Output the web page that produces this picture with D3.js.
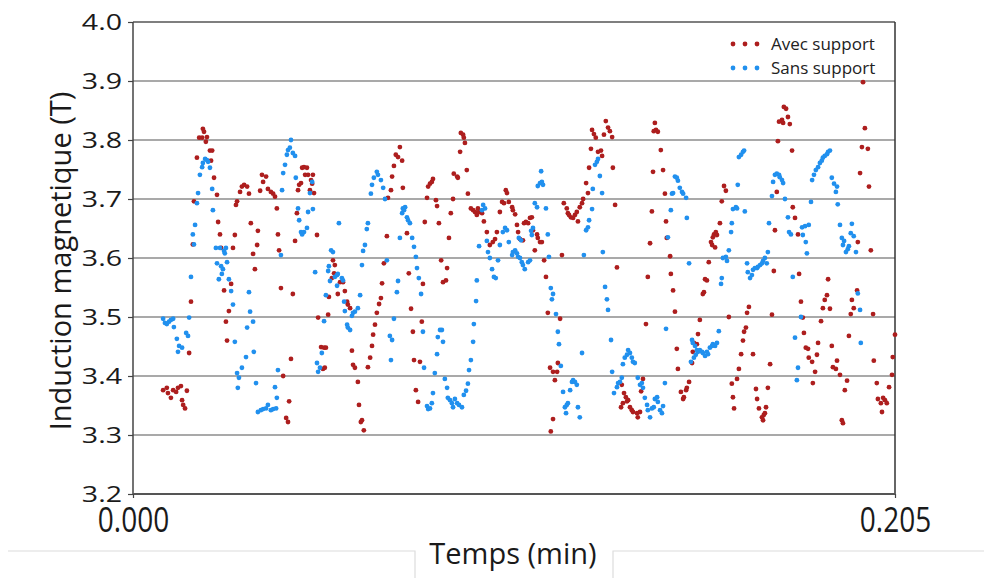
<!DOCTYPE html>
<html>
<head>
<meta charset="utf-8">
<script src="https://cdn.jsdelivr.net/npm/d3@7"></script>
<style>
  html, body { margin: 0; padding: 0; background: #ffffff; }
  svg { display: block; }
  text { font-family: "Open Sans", "Noto Sans", sans-serif; }
</style>
</head>
<body>
<svg id="chart" width="984" height="578"></svg>
<script>
// ---- Data (time in min, magnetic induction in T) ----
const seriesNames = ["Avec support", "Sans support"];
const seriesColors = ["#ad1e1e", "#2190ee"];

const avecSupport = [
[0.0081,3.376],[0.0091,3.380],[0.0094,3.371],[0.0102,3.363],[0.0108,3.376],[0.0116,3.373],[0.0121,3.380],[0.0129,3.383],
[0.0132,3.359],[0.0135,3.351],[0.0140,3.345],[0.0145,3.375],[0.0151,3.439],[0.0156,3.526],[0.0161,3.623],[0.0164,3.696],
[0.0172,3.770],[0.0178,3.804],[0.0186,3.804],[0.0188,3.819],[0.0191,3.814],[0.0196,3.797],[0.0199,3.805],[0.0207,3.782],
[0.0213,3.782],[0.0210,3.765],[0.0218,3.736],[0.0226,3.707],[0.0229,3.661],[0.0234,3.640],[0.0237,3.617],[0.0245,3.545],
[0.0250,3.492],[0.0253,3.460],[0.0258,3.510],[0.0264,3.556],[0.0269,3.617],[0.0274,3.639],[0.0277,3.690],[0.0280,3.696],
[0.0288,3.712],[0.0293,3.721],[0.0299,3.724],[0.0307,3.721],[0.0312,3.709],[0.0317,3.659],[0.0323,3.607],[0.0328,3.581],
[0.0334,3.622],[0.0336,3.646],[0.0342,3.714],[0.0347,3.741],[0.0350,3.729],[0.0358,3.738],[0.0363,3.717],[0.0371,3.712],
[0.0377,3.709],[0.0382,3.704],[0.0387,3.684],[0.0390,3.640],[0.0393,3.613],[0.0398,3.549],[0.0404,3.400],[0.0412,3.329],
[0.0417,3.322],[0.0420,3.357],[0.0425,3.429],[0.0430,3.539],[0.0436,3.629],[0.0441,3.676],[0.0444,3.715],[0.0447,3.724],
[0.0452,3.727],[0.0455,3.753],[0.0460,3.754],[0.0468,3.753],[0.0463,3.741],[0.0471,3.741],[0.0476,3.715],[0.0479,3.732],
[0.0482,3.726],[0.0484,3.741],[0.0487,3.710],[0.0495,3.639],[0.0498,3.499],[0.0506,3.449],[0.0511,3.412],[0.0514,3.448],
[0.0516,3.414],[0.0519,3.448],[0.0525,3.504],[0.0527,3.534],[0.0535,3.566],[0.0538,3.596],[0.0541,3.574],[0.0543,3.588],
[0.0551,3.539],[0.0557,3.559],[0.0565,3.559],[0.0570,3.544],[0.0576,3.526],[0.0578,3.521],[0.0584,3.515],[0.0589,3.443],
[0.0592,3.419],[0.0597,3.414],[0.0605,3.390],[0.0608,3.351],[0.0613,3.322],[0.0616,3.325],[0.0621,3.308],[0.0632,3.415],
[0.0638,3.431],[0.0643,3.451],[0.0646,3.470],[0.0651,3.487],[0.0656,3.507],[0.0662,3.522],[0.0667,3.532],[0.0670,3.557],
[0.0675,3.591],[0.0683,3.637],[0.0686,3.702],[0.0694,3.715],[0.0697,3.738],[0.0702,3.756],[0.0707,3.775],[0.0713,3.771],
[0.0718,3.788],[0.0724,3.765],[0.0726,3.719],[0.0737,3.642],[0.0742,3.574],[0.0748,3.514],[0.0753,3.475],[0.0756,3.427],
[0.0761,3.376],[0.0767,3.356],[0.0772,3.424],[0.0777,3.492],[0.0780,3.556],[0.0785,3.661],[0.0791,3.702],[0.0794,3.721],
[0.0799,3.726],[0.0804,3.729],[0.0807,3.734],[0.0815,3.698],[0.0818,3.688],[0.0823,3.659],[0.0829,3.596],[0.0834,3.559],
[0.0842,3.562],[0.0845,3.583],[0.0850,3.634],[0.0855,3.676],[0.0861,3.700],[0.0863,3.743],[0.0872,3.738],[0.0874,3.736],
[0.0880,3.780],[0.0882,3.812],[0.0888,3.809],[0.0890,3.804],[0.0893,3.795],[0.0898,3.749],[0.0901,3.709],[0.0909,3.684],
[0.0915,3.681],[0.0920,3.678],[0.0925,3.673],[0.0928,3.684],[0.0931,3.678],[0.0939,3.676],[0.0944,3.662],[0.0952,3.644],
[0.0960,3.622],[0.0968,3.627],[0.0974,3.632],[0.0979,3.644],[0.0987,3.678],[0.0993,3.695],[0.0998,3.693],[0.1003,3.715],
[0.1006,3.710],[0.1011,3.695],[0.1020,3.686],[0.1022,3.681],[0.1028,3.674],[0.1033,3.656],[0.1036,3.644],[0.1041,3.632],
[0.1049,3.630],[0.1052,3.659],[0.1057,3.661],[0.1063,3.659],[0.1068,3.668],[0.1073,3.669],[0.1076,3.647],[0.1081,3.613],
[0.1087,3.640],[0.1089,3.634],[0.1095,3.627],[0.1100,3.627],[0.1106,3.596],[0.1111,3.568],[0.1116,3.507],[0.1122,3.414],
[0.1124,3.306],[0.1130,3.407],[0.1130,3.327],[0.1135,3.393],[0.1141,3.407],[0.1143,3.422],[0.1149,3.497],[0.1154,3.605],
[0.1159,3.693],[0.1167,3.684],[0.1170,3.676],[0.1173,3.673],[0.1178,3.669],[0.1184,3.668],[0.1189,3.673],[0.1194,3.678],
[0.1197,3.662],[0.1202,3.686],[0.1208,3.693],[0.1211,3.700],[0.1219,3.727],[0.1224,3.710],[0.1227,3.753],[0.1232,3.785],
[0.1235,3.817],[0.1240,3.810],[0.1245,3.804],[0.1251,3.780],[0.1259,3.782],[0.1262,3.773],[0.1267,3.809],[0.1272,3.832],
[0.1278,3.821],[0.1283,3.815],[0.1289,3.805],[0.1291,3.753],[0.1297,3.690],[0.1302,3.584],[0.1313,3.347],[0.1315,3.385],
[0.1318,3.354],[0.1321,3.371],[0.1326,3.364],[0.1329,3.357],[0.1332,3.359],[0.1337,3.347],[0.1342,3.342],[0.1345,3.339],
[0.1356,3.337],[0.1358,3.330],[0.1364,3.339],[0.1367,3.374],[0.1372,3.395],[0.1380,3.488],[0.1385,3.568],[0.1391,3.625],
[0.1396,3.679],[0.1399,3.746],[0.1401,3.815],[0.1404,3.829],[0.1407,3.817],[0.1412,3.814],[0.1420,3.783],[0.1426,3.749],
[0.1431,3.709],[0.1434,3.662],[0.1436,3.634],[0.1445,3.603],[0.1447,3.573],[0.1453,3.545],[0.1458,3.509],[0.1463,3.446],
[0.1466,3.412],[0.1474,3.373],[0.1480,3.361],[0.1482,3.364],[0.1488,3.376],[0.1490,3.380],[0.1496,3.390],[0.1504,3.422],
[0.1506,3.441],[0.1509,3.456],[0.1517,3.454],[0.1520,3.471],[0.1525,3.495],[0.1533,3.539],[0.1536,3.542],[0.1539,3.564],
[0.1544,3.562],[0.1549,3.593],[0.1555,3.627],[0.1560,3.635],[0.1563,3.640],[0.1568,3.644],[0.1571,3.639],[0.1558,3.622],
[0.1566,3.618],[0.1579,3.659],[0.1584,3.696],[0.1590,3.722],[0.1595,3.714],[0.1603,3.500],[0.1611,3.387],[0.1614,3.364],
[0.1617,3.345],[0.1625,3.395],[0.1630,3.412],[0.1636,3.437],[0.1641,3.460],[0.1644,3.475],[0.1649,3.482],[0.1652,3.507],
[0.1657,3.517],[0.1668,3.437],[0.1676,3.378],[0.1679,3.361],[0.1684,3.345],[0.1692,3.330],[0.1695,3.325],[0.1697,3.334],
[0.1700,3.337],[0.1703,3.347],[0.1708,3.380],[0.1714,3.420],[0.1719,3.504],[0.1724,3.578],[0.1727,3.647],[0.1732,3.712],
[0.1735,3.798],[0.1738,3.831],[0.1746,3.834],[0.1749,3.829],[0.1751,3.856],[0.1757,3.853],[0.1762,3.839],[0.1767,3.827],
[0.1773,3.782],[0.1775,3.686],[0.1781,3.668],[0.1789,3.640],[0.1792,3.573],[0.1797,3.526],[0.1802,3.499],[0.1805,3.473],
[0.1810,3.448],[0.1816,3.446],[0.1818,3.431],[0.1827,3.424],[0.1829,3.388],[0.1835,3.407],[0.1840,3.436],[0.1843,3.456],
[0.1851,3.493],[0.1856,3.515],[0.1861,3.529],[0.1867,3.537],[0.1870,3.564],[0.1875,3.514],[0.1880,3.451],[0.1883,3.415],
[0.1891,3.412],[0.1894,3.426],[0.1902,3.402],[0.1907,3.325],[0.1910,3.320],[0.1915,3.376],[0.1921,3.392],[0.1926,3.468],
[0.1931,3.505],[0.1934,3.529],[0.1939,3.515],[0.1948,3.545],[0.1950,3.627],[0.1956,3.744],[0.1961,3.788],[0.1964,3.898],
[0.1969,3.820],[0.1977,3.785],[0.1980,3.721],[0.1985,3.613],[0.1991,3.505],[0.1993,3.426],[0.2001,3.388],[0.2004,3.361],
[0.2012,3.354],[0.2015,3.339],[0.2018,3.363],[0.2023,3.359],[0.2028,3.354],[0.2034,3.381],[0.2042,3.402],[0.2044,3.432],
[0.2050,3.470]
];

const sansSupport = [
[0.0081,3.497],[0.0086,3.490],[0.0091,3.488],[0.0097,3.492],[0.0102,3.495],[0.0108,3.497],[0.0110,3.483],[0.0118,3.463],
[0.0121,3.441],[0.0124,3.451],[0.0132,3.448],[0.0143,3.473],[0.0148,3.468],[0.0151,3.499],[0.0156,3.568],[0.0161,3.640],
[0.0164,3.623],[0.0167,3.656],[0.0172,3.693],[0.0175,3.710],[0.0180,3.741],[0.0186,3.754],[0.0188,3.761],[0.0194,3.768],
[0.0199,3.766],[0.0202,3.763],[0.0207,3.753],[0.0213,3.717],[0.0215,3.681],[0.0223,3.617],[0.0226,3.591],[0.0231,3.564],
[0.0234,3.617],[0.0237,3.586],[0.0239,3.573],[0.0242,3.581],[0.0245,3.612],[0.0247,3.608],[0.0250,3.617],[0.0253,3.593],
[0.0258,3.564],[0.0264,3.544],[0.0269,3.521],[0.0274,3.458],[0.0280,3.405],[0.0282,3.380],[0.0285,3.397],[0.0293,3.414],
[0.0304,3.432],[0.0307,3.482],[0.0312,3.542],[0.0315,3.509],[0.0323,3.492],[0.0325,3.441],[0.0331,3.388],[0.0336,3.339],
[0.0344,3.342],[0.0350,3.344],[0.0358,3.345],[0.0363,3.351],[0.0371,3.342],[0.0377,3.344],[0.0382,3.381],[0.0385,3.345],
[0.0387,3.363],[0.0390,3.410],[0.0398,3.605],[0.0401,3.715],[0.0404,3.744],[0.0409,3.758],[0.0414,3.775],[0.0417,3.783],
[0.0422,3.787],[0.0425,3.800],[0.0430,3.778],[0.0436,3.773],[0.0438,3.736],[0.0444,3.684],[0.0447,3.664],[0.0452,3.644],
[0.0455,3.640],[0.0460,3.644],[0.0468,3.651],[0.0471,3.678],[0.0476,3.710],[0.0482,3.729],[0.0484,3.683],[0.0490,3.576],
[0.0495,3.422],[0.0498,3.407],[0.0503,3.414],[0.0508,3.439],[0.0514,3.493],[0.0519,3.537],[0.0525,3.578],[0.0527,3.586],
[0.0530,3.561],[0.0533,3.613],[0.0538,3.610],[0.0543,3.568],[0.0549,3.571],[0.0549,3.553],[0.0551,3.573],[0.0554,3.659],
[0.0562,3.566],[0.0565,3.562],[0.0568,3.526],[0.0570,3.510],[0.0576,3.487],[0.0578,3.482],[0.0584,3.478],[0.0589,3.502],
[0.0592,3.507],[0.0597,3.509],[0.0605,3.515],[0.0611,3.537],[0.0616,3.588],[0.0619,3.612],[0.0624,3.622],[0.0629,3.649],
[0.0632,3.659],[0.0640,3.709],[0.0643,3.724],[0.0648,3.736],[0.0656,3.746],[0.0659,3.741],[0.0667,3.732],[0.0673,3.719],
[0.0678,3.700],[0.0683,3.596],[0.0691,3.468],[0.0694,3.427],[0.0697,3.461],[0.0702,3.497],[0.0710,3.542],[0.0713,3.561],
[0.0718,3.634],[0.0724,3.676],[0.0726,3.684],[0.0729,3.681],[0.0732,3.686],[0.0737,3.669],[0.0740,3.664],[0.0745,3.659],
[0.0751,3.634],[0.0756,3.619],[0.0761,3.602],[0.0764,3.583],[0.0769,3.566],[0.0775,3.539],[0.0780,3.475],[0.0783,3.414],
[0.0791,3.349],[0.0794,3.344],[0.0799,3.345],[0.0804,3.354],[0.0807,3.371],[0.0812,3.405],[0.0818,3.437],[0.0820,3.466],
[0.0826,3.478],[0.0831,3.478],[0.0834,3.458],[0.0839,3.395],[0.0845,3.380],[0.0847,3.363],[0.0853,3.359],[0.0858,3.354],
[0.0861,3.347],[0.0866,3.361],[0.0872,3.354],[0.0877,3.351],[0.0885,3.347],[0.0890,3.368],[0.0896,3.375],[0.0901,3.387],
[0.0904,3.410],[0.0909,3.427],[0.0915,3.458],[0.0917,3.488],[0.0923,3.527],[0.0925,3.562],[0.0931,3.620],[0.0939,3.681],
[0.0942,3.690],[0.0947,3.684],[0.0952,3.629],[0.0955,3.610],[0.0960,3.600],[0.0966,3.581],[0.0971,3.568],[0.0976,3.566],
[0.0982,3.596],[0.0987,3.622],[0.0995,3.644],[0.1001,3.651],[0.1006,3.647],[0.1011,3.627],[0.1020,3.605],[0.1022,3.610],
[0.1028,3.613],[0.1033,3.608],[0.1036,3.602],[0.1038,3.634],[0.1041,3.600],[0.1044,3.630],[0.1046,3.593],[0.1049,3.588],
[0.1054,3.581],[0.1063,3.593],[0.1068,3.596],[0.1071,3.646],[0.1073,3.639],[0.1076,3.651],[0.1081,3.693],[0.1087,3.686],
[0.1089,3.722],[0.1095,3.727],[0.1098,3.747],[0.1100,3.729],[0.1103,3.724],[0.1111,3.684],[0.1116,3.640],[0.1119,3.602],
[0.1124,3.549],[0.1127,3.530],[0.1130,3.539],[0.1138,3.505],[0.1143,3.475],[0.1146,3.454],[0.1151,3.417],[0.1157,3.373],
[0.1162,3.347],[0.1167,3.351],[0.1165,3.337],[0.1170,3.354],[0.1176,3.376],[0.1181,3.390],[0.1184,3.393],[0.1189,3.390],
[0.1194,3.385],[0.1197,3.347],[0.1202,3.330],[0.1208,3.439],[0.1213,3.605],[0.1219,3.647],[0.1224,3.652],[0.1227,3.664],
[0.1235,3.683],[0.1237,3.717],[0.1243,3.758],[0.1248,3.763],[0.1251,3.768],[0.1256,3.739],[0.1262,3.710],[0.1264,3.610],
[0.1270,3.551],[0.1275,3.530],[0.1278,3.512],[0.1286,3.461],[0.1289,3.407],[0.1294,3.371],[0.1302,3.381],[0.1305,3.388],
[0.1310,3.390],[0.1315,3.397],[0.1318,3.420],[0.1323,3.431],[0.1329,3.436],[0.1332,3.444],[0.1337,3.439],[0.1342,3.431],
[0.1345,3.424],[0.1350,3.422],[0.1358,3.397],[0.1364,3.385],[0.1369,3.388],[0.1372,3.380],[0.1377,3.363],[0.1383,3.351],
[0.1385,3.342],[0.1391,3.330],[0.1396,3.345],[0.1401,3.347],[0.1404,3.361],[0.1410,3.364],[0.1412,3.356],[0.1418,3.342],
[0.1423,3.337],[0.1426,3.349],[0.1431,3.388],[0.1434,3.480],[0.1439,3.635],[0.1447,3.681],[0.1450,3.709],[0.1453,3.710],
[0.1458,3.738],[0.1463,3.736],[0.1466,3.731],[0.1471,3.719],[0.1477,3.712],[0.1480,3.709],[0.1488,3.702],[0.1490,3.668],
[0.1496,3.591],[0.1504,3.461],[0.1506,3.456],[0.1512,3.451],[0.1517,3.444],[0.1520,3.441],[0.1525,3.444],[0.1531,3.441],
[0.1533,3.439],[0.1539,3.434],[0.1544,3.441],[0.1547,3.437],[0.1552,3.448],[0.1558,3.451],[0.1560,3.454],[0.1566,3.451],
[0.1571,3.456],[0.1501,3.424],[0.1509,3.431],[0.1514,3.436],[0.1576,3.476],[0.1582,3.556],[0.1584,3.566],[0.1587,3.600],
[0.1595,3.602],[0.1598,3.595],[0.1603,3.613],[0.1609,3.644],[0.1611,3.659],[0.1614,3.683],[0.1622,3.686],[0.1625,3.684],
[0.1627,3.724],[0.1630,3.771],[0.1636,3.775],[0.1641,3.780],[0.1644,3.782],[0.1646,3.679],[0.1652,3.591],[0.1654,3.576],
[0.1660,3.566],[0.1665,3.571],[0.1668,3.580],[0.1673,3.583],[0.1679,3.583],[0.1681,3.585],[0.1687,3.588],[0.1692,3.591],
[0.1695,3.595],[0.1700,3.600],[0.1705,3.591],[0.1708,3.610],[0.1711,3.659],[0.1719,3.705],[0.1722,3.729],[0.1727,3.741],
[0.1732,3.743],[0.1738,3.741],[0.1740,3.737],[0.1746,3.732],[0.1749,3.727],[0.1754,3.700],[0.1762,3.669],[0.1765,3.644],
[0.1770,3.640],[0.1775,3.568],[0.1781,3.465],[0.1786,3.393],[0.1789,3.414],[0.1797,3.500],[0.1800,3.652],[0.1802,3.639],
[0.1808,3.654],[0.1810,3.627],[0.1813,3.608],[0.1818,3.656],[0.1824,3.695],[0.1827,3.732],[0.1832,3.741],[0.1837,3.749],
[0.1843,3.754],[0.1848,3.761],[0.1853,3.765],[0.1856,3.770],[0.1861,3.773],[0.1867,3.776],[0.1870,3.780],[0.1875,3.782],
[0.1880,3.736],[0.1886,3.726],[0.1891,3.712],[0.1894,3.721],[0.1896,3.691],[0.1902,3.656],[0.1907,3.634],[0.1910,3.622],
[0.1913,3.629],[0.1918,3.610],[0.1923,3.615],[0.1926,3.620],[0.1931,3.642],[0.1934,3.658],[0.1939,3.637],[0.1945,3.610],
[0.1950,3.540],[0.1956,3.512],[0.1958,3.456]
];

const yTicks = [3.2, 3.3, 3.4, 3.5, 3.6, 3.7, 3.8, 3.9, 4.0];
const xTicks = [0.000, 0.205];
const xTickLabels = ["0.000", "0.205"];
const xDomain = [0, 0.205];
const yDomain = [3.2, 4.0];
const xTitle = "Temps (min)";
const yTitle = "Induction magnetique (T)";

// ---- Layout ----
const svg = d3.select("#chart");
const mLeft = 133, mRight = 895, mTop = 22, mBottom = 494;

const x = d3.scaleLinear().domain(xDomain).range([mLeft, mRight]);
const y = d3.scaleLinear().domain(yDomain).range([mBottom, mTop]);

// Gridlines
svg.append("g")
  .selectAll("line")
  .data(yTicks)
  .join("line")
  .attr("x1", mLeft).attr("x2", mRight)
  .attr("y1", d => y(d)).attr("y2", d => y(d))
  .attr("stroke", d => (d === 4.0 ? "#555" : "#8c8c8c"))
  .attr("stroke-width", 1.6);

// Frame spines
svg.append("line").attr("x1", mLeft).attr("x2", mLeft).attr("y1", mTop).attr("y2", mBottom)
  .attr("stroke", "#444").attr("stroke-width", 1.5);
svg.append("line").attr("x1", mRight).attr("x2", mRight).attr("y1", mTop).attr("y2", mBottom)
  .attr("stroke", "#333").attr("stroke-width", 1.5);
svg.append("line").attr("x1", mLeft).attr("x2", mRight).attr("y1", mBottom).attr("y2", mBottom)
  .attr("stroke", "#555").attr("stroke-width", 2);

// Y axis
const yAxis = svg.append("g")
  .attr("transform", `translate(${mLeft},0)`)
  .call(d3.axisLeft(y).tickValues(yTicks).tickFormat(d3.format(".1f")).tickSize(5).tickPadding(6));
yAxis.select(".domain").remove();
yAxis.selectAll(".tick line").attr("stroke", "#444").attr("stroke-width", 1.2);
yAxis.selectAll(".tick text")
  .attr("x", 0)
  .attr("transform", "translate(-11,0) scale(1.3,1)")
  .attr("font-size", 22).attr("fill", "#1a1a1a")
  .attr("font-family", "'Open Sans', sans-serif");

// X axis
const xAxis = svg.append("g")
  .attr("transform", `translate(0,${mBottom})`)
  .call(d3.axisBottom(x).tickValues(xTicks).tickFormat((d, i) => xTickLabels[i]).tickSize(4).tickPadding(8));
xAxis.select(".domain").remove();
xAxis.selectAll(".tick line").attr("stroke", "#444").attr("stroke-width", 1.2);
xAxis.selectAll(".tick text")
  .attr("y", 0)
  .attr("transform", "translate(0,14) scale(1,1.22)")
  .attr("font-size", 28).attr("fill", "#1a1a1a")
  .attr("font-family", "'Open Sans', sans-serif");

// Points
const seriesData = [avecSupport, sansSupport];
seriesData.forEach((data, i) => {
  svg.append("g")
    .selectAll("circle")
    .data(data)
    .join("circle")
    .attr("cx", d => x(d[0]))
    .attr("cy", d => y(d[1]))
    .attr("r", 2.4)
    .attr("fill", seriesColors[i]);
});

// Legend
const legend = svg.append("g");
seriesNames.forEach((name, i) => {
  const ly = 44 + i * 24;
  [0, 1, 2].forEach(k => {
    legend.append("circle").attr("cx", 733 + k * 12).attr("cy", ly).attr("r", 2.4).attr("fill", seriesColors[i]);
  });
  legend.append("text").attr("x", 771).attr("y", ly + 6).text(name)
    .attr("font-size", 17).attr("fill", "#222");
});

// Axis titles
svg.append("text")
  .attr("transform", `translate(71,261) rotate(-90)`)
  .attr("text-anchor", "middle")
  .attr("font-size", 29).attr("fill", "#1a1a1a")
  .text(yTitle);

svg.append("text")
  .attr("x", 513).attr("y", 564)
  .attr("text-anchor", "middle")
  .attr("font-size", 29).attr("fill", "#1a1a1a")
  .text(xTitle);

// Light page border around the x title
const borderColor = "#dcdcdc";
svg.append("path")
  .attr("d", "M8,551 H415 V578 M613,578 V551 H984")
  .attr("fill", "none").attr("stroke", borderColor).attr("stroke-width", 1.2);
</script>
</body>
</html>
